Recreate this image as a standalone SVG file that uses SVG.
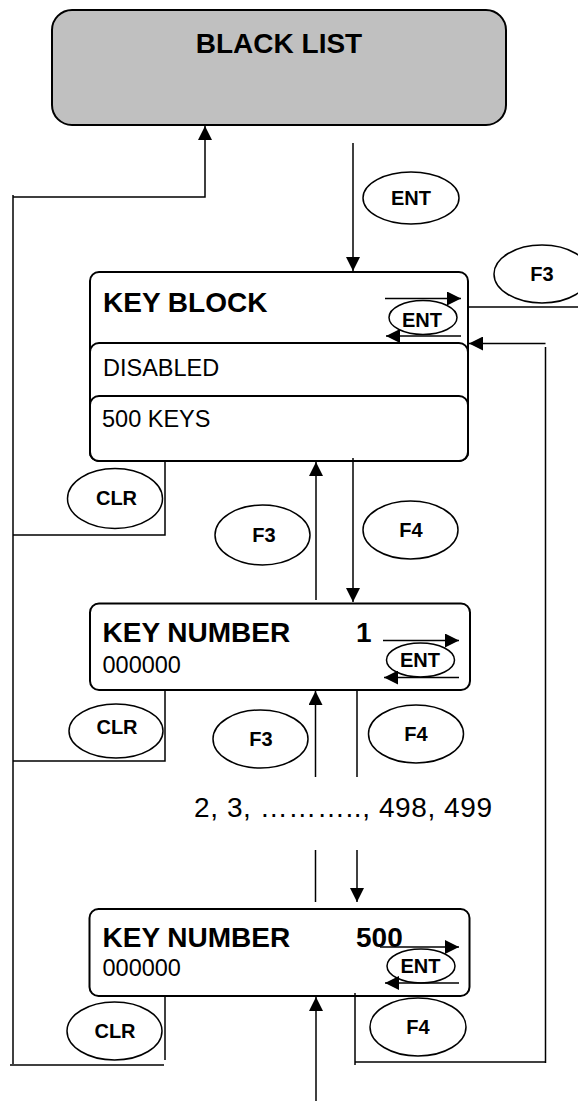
<svg xmlns="http://www.w3.org/2000/svg" width="578" height="1101" viewBox="0 0 578 1101">
<style>
text{font-family:"Liberation Sans",Arial,sans-serif;fill:#000}
.big{font-size:28px;font-weight:bold}
.reg{font-size:23.5px}
.key{font-size:20px;font-weight:bold;text-anchor:middle}
.box{fill:#fff;stroke:#000;stroke-width:2}
.ell{fill:none;stroke:#000;stroke-width:1.5}
.ln{fill:none;stroke:#000;stroke-width:1.5}
.arr{fill:none;stroke:#000;stroke-width:1.5;marker-end:url(#ah)}
</style>
<defs>
<marker id="ah" viewBox="0 0 10 10" refX="10" refY="5" markerWidth="15" markerHeight="14" markerUnits="userSpaceOnUse" orient="auto"><path d="M0,0 L10,5 L0,10 z" fill="#000"/></marker>
</defs>
<rect width="578" height="1101" fill="#fff"/>

<g id="black-list">
<rect x="52" y="10" width="454" height="115" rx="20" fill="#c0c0c0" stroke="#000" stroke-width="2"/>
<text class="big" x="279" y="52.5" text-anchor="middle">BLACK LIST</text>
</g>

<g id="key-block">
<rect class="box" x="90" y="272" width="378" height="189" rx="9"/>
<rect class="box" x="90" y="343" width="378" height="118" rx="9"/>
<rect class="box" x="90" y="396" width="378" height="65" rx="9"/>
<text class="big" x="103" y="311.5">KEY BLOCK</text>
<text class="reg" x="103" y="376">DISABLED</text>
<text class="reg" x="102" y="427">500 KEYS</text>
<ellipse class="ell" cx="423" cy="317.5" rx="34" ry="17"/>
<text class="key" x="422" y="326.5">ENT</text>
<line class="arr" x1="385" y1="298.5" x2="461" y2="298.5"/>
<line class="arr" x1="461" y1="336" x2="386" y2="336"/>
</g>

<g id="key-number-1">
<rect class="box" x="90" y="603.5" width="380" height="86.5" rx="9"/>
<text class="big" x="102.5" y="641.5">KEY NUMBER</text>
<text class="big" x="356" y="641.5">1</text>
<text class="reg" x="102.5" y="673">000000</text>
<ellipse class="ell" cx="420.5" cy="660" rx="34" ry="17"/>
<text class="key" x="420" y="667">ENT</text>
<line class="arr" x1="383" y1="640.5" x2="459" y2="640.5"/>
<line class="arr" x1="459" y1="677.5" x2="384" y2="677.5"/>
</g>

<g id="key-range">
<text x="194" y="817" style="font-size:28px" textLength="298" lengthAdjust="spacing">2, 3, ……….., 498, 499</text>
</g>

<g id="key-number-500">
<rect class="box" x="89.5" y="909" width="380" height="87" rx="9"/>
<text class="big" x="102.5" y="947">KEY NUMBER</text>
<text class="big" x="356" y="947">500</text>
<text class="reg" x="102.5" y="976">000000</text>
<ellipse class="ell" cx="421" cy="966" rx="34" ry="17"/>
<text class="key" x="420.5" y="973">ENT</text>
<line class="arr" x1="380" y1="947" x2="459" y2="947"/>
<line class="arr" x1="459" y1="983" x2="385" y2="983"/>
</g>

<g id="connectors">
<line class="ln" x1="13" y1="195" x2="13" y2="1064"/>
<polyline class="arr" points="13,197 205,197 205,126"/>
<line class="arr" x1="353" y1="143" x2="353" y2="271"/>
<line class="ln" x1="468" y1="307" x2="578" y2="307"/>
<line class="arr" x1="545.5" y1="343.5" x2="469" y2="343.5"/>
<line class="ln" x1="545.5" y1="347" x2="545.5" y2="1063"/>
<polyline class="ln" points="165,461 165,535 13,535"/>
<line class="arr" x1="316" y1="600" x2="316" y2="462"/>
<line class="arr" x1="353" y1="458" x2="353" y2="602"/>
<polyline class="ln" points="165,690 165,761 13,761"/>
<line class="arr" x1="315.5" y1="777" x2="315.5" y2="691"/>
<line class="ln" x1="357" y1="690" x2="357" y2="777"/>
<line class="ln" x1="315.5" y1="850" x2="315.5" y2="902"/>
<line class="arr" x1="357" y1="850" x2="357" y2="902"/>
<line class="ln" x1="165" y1="996" x2="165" y2="1060"/>
<line class="ln" x1="10" y1="1065" x2="164" y2="1065"/>
<line class="arr" x1="316" y1="1101" x2="316" y2="997"/>
<line class="ln" x1="355" y1="993" x2="355" y2="1065"/>
<line class="ln" x1="355" y1="1062" x2="546" y2="1062"/>
</g>

<g id="key-labels">
<g id="lbl-ent-top"><ellipse class="ell" cx="411" cy="198" rx="48" ry="26"/><text class="key" x="411" y="205">ENT</text></g>
<g id="lbl-f3-top"><ellipse class="ell" cx="542" cy="274" rx="48" ry="29"/><text class="key" x="542" y="281">F3</text></g>
<g id="lbl-clr-1"><ellipse class="ell" cx="115" cy="498.5" rx="47.5" ry="30"/><text class="key" x="116.5" y="505">CLR</text></g>
<g id="lbl-f3-1"><ellipse class="ell" cx="262.5" cy="535" rx="47.5" ry="30"/><text class="key" x="264" y="541.5">F3</text></g>
<g id="lbl-f4-1"><ellipse class="ell" cx="410.5" cy="530" rx="47.5" ry="29"/><text class="key" x="411" y="537">F4</text></g>
<g id="lbl-clr-2"><ellipse class="ell" cx="116" cy="731" rx="47" ry="27"/><text class="key" x="117" y="734">CLR</text></g>
<g id="lbl-f3-2"><ellipse class="ell" cx="260.5" cy="739" rx="47.5" ry="29"/><text class="key" x="261" y="745.5">F3</text></g>
<g id="lbl-f4-2"><ellipse class="ell" cx="416" cy="734" rx="47.5" ry="29"/><text class="key" x="416" y="740.5">F4</text></g>
<g id="lbl-clr-3"><ellipse class="ell" cx="114.5" cy="1031" rx="47.5" ry="29"/><text class="key" x="115" y="1037.5">CLR</text></g>
<g id="lbl-f4-3"><ellipse class="ell" cx="418" cy="1027" rx="48" ry="29"/><text class="key" x="418" y="1034">F4</text></g>
</g>
</svg>
